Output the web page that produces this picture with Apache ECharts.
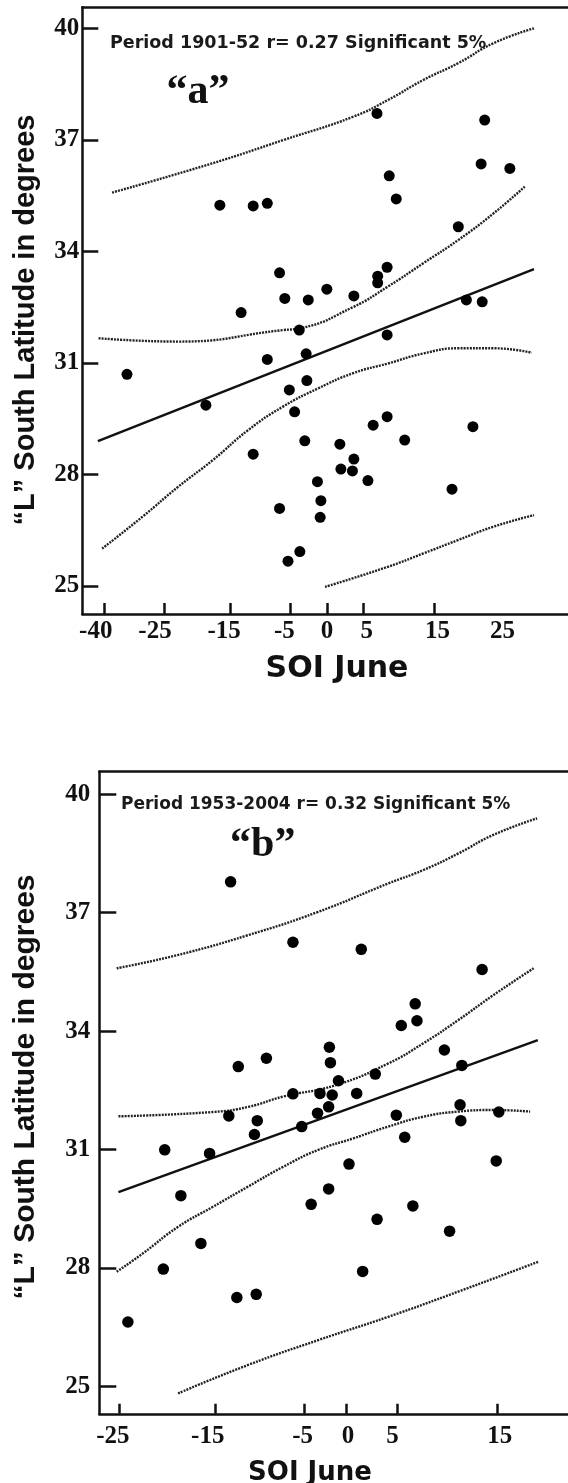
<!DOCTYPE html>
<html>
<head>
<meta charset="utf-8">
<script src="https://cdn.jsdelivr.net/npm/echarts@6/dist/echarts.min.js"></script>
<style>
html,body{margin:0;padding:0;background:#fff;}
#chart{width:568px;height:1483px;}
</style>
</head>
<body>
<div id="chart"></div>
<script>
// ---------- Panel a : 1901-52 ----------
var soiA = [7.06,22.25,21.75,25.8,8.79,9.78,-15.1,-10.4,-8.41,18.53,-6.68,8.49,7.16,7.16,-0.01,-5.94,-2.63,3.8,19.67,21.9,-12.1,-3.9,8.49,-28.2,-8.41,-2.93,-2.83,-5.3,-17.07,-4.56,8.49,6.52,20.59,-3.12,10.97,1.82,-10.4,3.8,1.97,3.6,5.78,-1.34,17.64,-0.85,-6.68,-0.95,-3.82,-5.49];
var latA = [37.71,37.53,36.35,36.23,36.03,35.41,35.24,35.22,35.29,34.66,33.42,33.57,33.33,33.15,32.98,32.73,32.69,32.80,32.69,32.64,32.35,31.88,31.75,30.69,31.09,31.24,30.52,30.27,29.86,29.68,29.55,29.32,29.28,28.90,28.92,28.81,28.54,28.41,28.14,28.09,27.83,27.80,27.60,27.29,27.08,26.84,25.92,25.66];
var regA_x = [-32.3, 29.2];
var regA_y = [28.89, 33.52];
var meanUpA_x = [-32.2,-21,-6.2,-3.7,3.7,8.6,13.6,18.5,23.5,27.9];
var meanUpA_y = [31.66,31.57,31.88,31.93,32.5,33.05,33.68,34.3,35.02,35.74];
var meanLoA_x = [-31.7,-26,-21,-16.1,-11.1,-6.2,-1.25,3.7,8.6,13.6,18.5,23.5,28.9];
var meanLoA_y = [26.0,26.86,27.66,28.38,29.19,29.82,30.31,30.72,30.98,31.25,31.39,31.39,31.27];
var predUpA_x = [-30.3,-16.1,-6.2,3.7,8.6,13.6,18.5,23.5,29.2];
var predUpA_y = [35.58,36.37,36.99,37.62,38.07,38.61,39.06,39.6,40.0];
var predLoA_x = [-0.27,8.6,13.6,18.5,23.5,29.2];
var predLoA_y = [24.97,25.51,25.87,26.23,26.59,26.9];
var xLabelsA = ['-40','-25','-15','-5','0','5','15','25'];
var xLabelPosA = [-32.6,-24.25,-14.5,-6.0,0,5.6,15.6,24.75];
var xTickPosA = [-31.39,-22.92,-13.63,-5.2,0,5.07,15.11];

// ---------- Panel b : 1953-2004 ----------
var soiB = [-12.6,-5.93,1.38,14.31,7.15,5.66,7.34,-2.03,10.27,-8.77,-11.78,-1.92,12.14,2.88,-1.06,-5.93,-3.04,-1.73,0.89,-2.11,11.95,-12.79,-9.75,-3.3,5.13,16.1,12.03,-4.99,-10.05,-19.65,-14.85,6.03,0.07,15.82,-2.11,-17.92,-3.98,6.9,3.07,10.83,-15.78,-19.8,1.53,-9.86,-11.93,-23.59];
var latB = [37.78,36.25,36.07,35.56,34.69,34.14,34.26,33.59,33.52,33.31,33.10,33.20,33.13,32.91,32.74,32.41,32.42,32.38,32.42,32.08,32.13,31.85,31.73,31.92,31.87,31.95,31.73,31.58,31.38,30.99,30.90,31.31,30.63,30.71,30.0,29.83,29.61,29.57,29.23,28.93,28.62,27.97,27.91,27.33,27.25,26.63];
var regB_x = [-24.6, 20.27];
var regB_y = [29.92, 33.77];
var meanUpB_x = [-24.6,-14.47,-10.7,-6.98,-1.35,4.27,8.02,11.77,15.51,19.82];
var meanUpB_y = [31.84,31.95,32.08,32.34,32.63,33.18,33.69,34.28,34.91,35.59];
var meanLoB_x = [-24.79,-21.97,-18.22,-14.48,-10.73,-6.98,-3.23,0.52,4.27,8.02,11.77,15.51,19.45];
var meanLoB_y = [27.90,28.37,29.04,29.55,30.06,30.56,30.99,31.28,31.58,31.83,31.96,32.0,31.96];
var predUpB_x = [-24.79,-18.22,-10.73,-3.23,4.27,8.02,11.77,15.51,20.2];
var predUpB_y = [35.59,35.93,36.43,37.02,37.74,38.08,38.50,38.97,39.39];
var predLoB_x = [-18.22,-10.73,-3.23,4.27,11.77,20.38];
var predLoB_y = [24.82,25.54,26.17,26.76,27.40,28.16];
var xLabelsB = ['-25','-15','-5','0','5','15'];
var xLabelPosB = [-25.19,-15.05,-4.9,-0.03,4.72,16.21];
var xTickPosB = [-24.5,-14.26,-4.77,-0.27,5.2,15.93];

var yTicks = [25,28,31,34,37,40];

function zip(xs, ys){ return xs.map(function(x,i){ return [x, ys[i]]; }); }
function lookup(pos, labels){
  return function(v){
    for (var i=0;i<pos.length;i++){ if (Math.abs(pos[i]-v) < 1e-6) return labels[i]; }
    return '';
  };
}

var INK = '#000';
var serifLabel = {fontFamily:'Liberation Serif', fontWeight:'bold', color:'#111'};
var dotLine = {color:'#222', width:2.4, type:[2,1.1]};
var solidLine = {color:'#111', width:2.5};

function xAxisPair(grid, min, max, tickPos, labelPos, labels, tickLen, margin, fs){
  return [{
    gridIndex:grid, type:'value', min:min, max:max, position:'bottom',
    axisLine:{show:true, onZero:false, lineStyle:{color:'#111', width:2.5}},
    axisTick:{show:true, inside:true, length:tickLen, customValues:tickPos, lineStyle:{color:'#111', width:2.5}},
    axisLabel:Object.assign({show:true, customValues:labelPos, formatter:lookup(labelPos, labels), margin:margin, fontSize:fs}, serifLabel),
    splitLine:{show:false}
  },{
    gridIndex:grid, type:'value', min:min, max:max, position:'top',
    axisLine:{show:true, onZero:false, lineStyle:{color:'#111', width:2.5}},
    axisTick:{show:false}, axisLabel:{show:false}, splitLine:{show:false}
  }];
}
function yAxisOf(grid, min, max, tickLen, margin, fs){
  return {
    gridIndex:grid, type:'value', min:min, max:max,
    axisLine:{show:true, onZero:false, lineStyle:{color:'#111', width:2.5}},
    axisTick:{show:true, inside:true, length:tickLen, customValues:yTicks, lineStyle:{color:'#111', width:2.5}},
    axisLabel:Object.assign({show:true, customValues:yTicks, margin:margin, fontSize:fs}, serifLabel),
    splitLine:{show:false}
  };
}
function lineSeries(xi, yi, xs, ys, style, smooth){
  return {type:'line', xAxisIndex:xi, yAxisIndex:yi, data:zip(xs, ys), smooth:smooth, showSymbol:false, symbol:'none', lineStyle:style, silent:true, z:2};
}

var option = {
  animation:false,
  backgroundColor:'#fff',
  grid:[
    {left:82.3, top:7.3, width:500, height:606.7},
    {left:99.3, top:771.7, width:482.9, height:642.1}
  ],
  xAxis: xAxisPair(0, -34.5, 34, xTickPosA, xLabelPosA, xLabelsA, 11, 5, 25)
          .concat(xAxisPair(1, -26.65, 23.5, xTickPosB, xLabelPosB, xLabelsB, 10, 10, 25)),
  yAxis:[
    yAxisOf(0, 24.24, 40.565, 16, 3, 25),
    yAxisOf(1, 24.303, 40.571, 17, 9, 25)
  ],
  series:[
    lineSeries(0,0, predUpA_x, predUpA_y, dotLine, true),
    lineSeries(0,0, predLoA_x, predLoA_y, dotLine, true),
    lineSeries(0,0, meanUpA_x, meanUpA_y, dotLine, true),
    lineSeries(0,0, meanLoA_x, meanLoA_y, dotLine, true),
    lineSeries(0,0, regA_x, regA_y, solidLine, false),
    {type:'scatter', xAxisIndex:0, yAxisIndex:0, data:zip(soiA, latA), symbolSize:11, itemStyle:{color:INK, opacity:1}, z:3},
    lineSeries(2,1, predUpB_x, predUpB_y, dotLine, true),
    lineSeries(2,1, predLoB_x, predLoB_y, dotLine, true),
    lineSeries(2,1, meanUpB_x, meanUpB_y, dotLine, true),
    lineSeries(2,1, meanLoB_x, meanLoB_y, dotLine, true),
    lineSeries(2,1, regB_x, regB_y, solidLine, false),
    {type:'scatter', xAxisIndex:2, yAxisIndex:1, data:zip(soiB, latB), symbolSize:11.5, itemStyle:{color:INK, opacity:1}, z:3}
  ],
  graphic:[
    {type:'text', x:110, y:43.3, style:{text:'Period 1901-52 r= 0.27 Significant 5%', fontFamily:'DejaVu Sans', fontWeight:'bold', fontSize:17.5, fill:'#1a1a1a', verticalAlign:'middle', align:'left'}},
    {type:'text', x:198, y:92, style:{text:'\u201Ca\u201D', fontFamily:'Liberation Serif', fontWeight:'bold', fontSize:42, fill:'#111', verticalAlign:'middle', align:'center'}},
    {type:'text', x:337, y:669, style:{text:'SOI June', fontFamily:'DejaVu Sans', fontWeight:'bold', fontSize:30, fill:'#111', verticalAlign:'middle', align:'center'}},
    {type:'text', x:26, y:320, rotation:Math.PI/2, style:{text:'\u201CL\u201D South Latitude in degrees', fontFamily:'Liberation Sans', fontWeight:'bold', fontSize:29, fill:'#111', verticalAlign:'middle', align:'center'}},
    {type:'text', x:121, y:804.5, style:{text:'Period 1953-2004 r= 0.32 Significant 5%', fontFamily:'DejaVu Sans', fontWeight:'bold', fontSize:17, fill:'#1a1a1a', verticalAlign:'middle', align:'left'}},
    {type:'text', x:262.7, y:845, style:{text:'\u201Cb\u201D', fontFamily:'Liberation Serif', fontWeight:'bold', fontSize:42, fill:'#111', verticalAlign:'middle', align:'center'}},
    {type:'text', x:310, y:1473, style:{text:'SOI June', fontFamily:'DejaVu Sans', fontWeight:'bold', fontSize:26, fill:'#111', verticalAlign:'middle', align:'center'}},
    {type:'text', x:26, y:1087, rotation:Math.PI/2, style:{text:'\u201CL\u201D South Latitude in degrees', fontFamily:'Liberation Sans', fontWeight:'bold', fontSize:30, fill:'#111', verticalAlign:'middle', align:'center'}}
  ]
};

var chart = echarts.init(document.getElementById('chart'), null, {renderer:'canvas', width:568, height:1483});
chart.setOption(option);
</script>
</body>
</html>
